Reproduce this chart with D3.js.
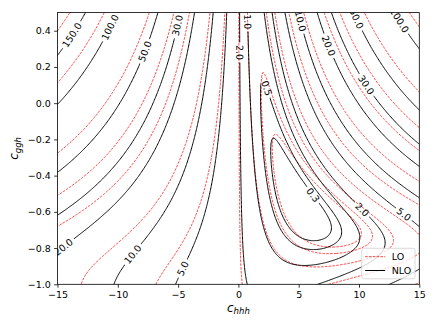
<!DOCTYPE html>
<meta charset="utf-8">
<script src="https://d3js.org/d3.v7.min.js"></script>
<style>
body { margin: 0; background: #fff; }
text { font-family: "DejaVu Sans", sans-serif; }
</style>
<div id="chart"></div>
<script>
// contour levels of R = sigma / sigma_SM
var levels = [0.3, 0.5, 1, 2, 5, 10, 20, 30, 50, 100, 150];

// R(chhh, cggh) = A1 + A2*c + A3*c^2 + A4*c*g + A5*c^2*g + A6*c^2*g^2
var nloCoef = [2.2073, -1.5471, 0.3363, -1.2339, 0.6472, 0.3537];
var loCoef = [2.0700, -1.3421, 0.2719, -1.1143, 0.5465, 0.3038];

// inline labels on the NLO contours: level, chhh, cggh
var nloLabels = [
  [150, -13.8, 0.376], [100, -10.65, 0.42], [50, -7.9, 0.29], [30, -5.1, 0.43],
  [20, -14.5, -0.795], [10, -8.85, -0.83], [5, -4.7, -0.91],
  [2, 0.07, 0.28], [1, 0.74, 0.45], [0.5, 2.35, 0.083], [0.3, 6.2, -0.507],
  [2, 10.22, -0.59], [5, 13.67, -0.618], [20, 7.32, 0.312], [30, 10.58, 0.10],
  [10, 4.94, 0.45], [50, 9.9, 0.47], [100, 13.4, 0.46]
];

var xTicks = [-15, -10, -5, 0, 5, 10, 15];
var yTicks = [-1.0, -0.8, -0.6, -0.4, -0.2, 0.0, 0.2, 0.4];

function R(c, a, g) {
  return c[0] + c[1]*a + c[2]*a*a + c[3]*a*g + c[4]*a*a*g + c[5]*a*a*g*g;
}

var W = 436, H = 327;
var margin = {top: 12.6, right: 16.7, bottom: 42.7, left: 57.5},
    width = W - margin.left - margin.right,
    height = H - margin.top - margin.bottom;

var svg = d3.select("#chart").append("svg").attr("width", W).attr("height", H);

var x = d3.scaleLinear().domain([-15, 15]).range([margin.left, margin.left + width]);
var y = d3.scaleLinear().domain([-1, 0.5]).range([margin.top + height, margin.top]);

var defs = svg.append("defs");
defs.append("clipPath").attr("id", "clip").append("rect")
  .attr("x", margin.left).attr("y", margin.top).attr("width", width).attr("height", height);
var mask = defs.append("mask").attr("id", "gaps").attr("maskUnits", "userSpaceOnUse")
  .attr("x", 0).attr("y", 0).attr("width", W).attr("height", H);
mask.append("rect").attr("width", W).attr("height", H).attr("fill", "#fff");

// sample the surface on a grid a bit larger than the axes, then clip
var nx = 420, ny = 240, X0 = -16, X1 = 16, Y0 = 0.6, Y1 = -1.1;
var dx = (X1 - X0) / (nx - 1), dy = (Y1 - Y0) / (ny - 1);
function grid(c) {
  var vals = new Array(nx * ny);
  for (var j = 0; j < ny; j++)
    for (var i = 0; i < nx; i++) vals[i + j * nx] = R(c, X0 + i * dx, Y0 + j * dy);
  return vals;
}
var proj = d3.geoTransform({ point: function(gx, gy) {
  this.stream.point(x(X0 + (gx - 0.5) * dx), y(Y0 + (gy - 0.5) * dy));
}});
var path = d3.geoPath(proj);
var gen = d3.contours().size([nx, ny]).thresholds(levels);

svg.append("g").attr("clip-path", "url(#clip)")
  .selectAll("path").data(gen(grid(loCoef))).enter().append("path")
  .attr("d", path).attr("fill", "none").attr("stroke", "#ff0000")
  .attr("stroke-width", 0.75).attr("stroke-dasharray", "2.6,1.2");

svg.append("g").attr("clip-path", "url(#clip)")
  .append("g").attr("mask", "url(#gaps)")
  .selectAll("path").data(gen(grid(nloCoef))).enter().append("path")
  .attr("d", path).attr("fill", "none").attr("stroke", "#000")
  .attr("stroke-width", 1);

// contour labels, snapped onto the NLO lines and turned along them
function Rpx(px, py) { return R(nloCoef, x.invert(px), y.invert(py)); }
var labelG = svg.append("g").attr("clip-path", "url(#clip)");
nloLabels.forEach(function(l) {
  var px = x(l[1]), py = y(l[2]), h = 0.5, gx, gy;
  for (var k = 0; k < 30; k++) {
    var v = Rpx(px, py);
    gx = (Rpx(px + h, py) - Rpx(px - h, py)) / (2 * h);
    gy = (Rpx(px, py + h) - Rpx(px, py - h)) / (2 * h);
    var g2 = gx * gx + gy * gy;
    if (!g2) break;
    var s = (l[0] - v) / g2;
    var step = Math.max(-3, Math.min(3, s * gx)), stepy = Math.max(-3, Math.min(3, s * gy));
    px += step; py += stepy;
  }
  var ang = Math.atan2(gx, -gy) * 180 / Math.PI;
  if (ang > 90) ang -= 180;
  if (ang <= -90) ang += 180;
  var t = labelG.append("text")
    .attr("transform", "translate(" + px + "," + py + ") rotate(" + ang + ")")
    .attr("text-anchor", "middle").attr("dy", "0.36em")
    .attr("font-size", 9.5).attr("fill", "#000")
    .text(l[0].toFixed(1));
  var len = t.node().getComputedTextLength();
  mask.append("rect")
    .attr("transform", "translate(" + px + "," + py + ") rotate(" + ang + ")")
    .attr("x", -len / 2 - 2.5).attr("y", -4.5).attr("width", len + 5).attr("height", 9)
    .attr("fill", "#000");
});

// axes
var xAxis = svg.append("g")
  .attr("transform", "translate(0," + (margin.top + height) + ")")
  .call(d3.axisBottom(x).tickValues(xTicks).tickSize(3.4).tickPadding(3.2).tickFormat(d3.format("d")));
var yAxis = svg.append("g")
  .attr("transform", "translate(" + margin.left + ",0)")
  .call(d3.axisLeft(y).tickValues(yTicks).tickSize(3.4).tickPadding(3.2).tickFormat(d3.format(".1f")));
[xAxis, yAxis].forEach(function(a) {
  a.select(".domain").remove();
  a.selectAll("line").attr("stroke", "#000").attr("stroke-width", 0.8);
  a.selectAll("text").attr("font-size", 9.5).attr("fill", "#000")
    .style("font-family", "'DejaVu Sans', sans-serif");
});

svg.append("rect")
  .attr("x", margin.left).attr("y", margin.top).attr("width", width).attr("height", height)
  .attr("fill", "none").attr("stroke", "#000").attr("stroke-width", 0.8);

// axis titles
var xl = svg.append("text").attr("x", x(0)).attr("y", 311.5)
  .attr("text-anchor", "middle").attr("font-style", "italic").attr("font-size", 12);
xl.append("tspan").text("c");
xl.append("tspan").attr("font-size", 8.5).attr("dy", 2.5).text("hhh");

var yl = svg.append("text")
  .attr("transform", "translate(18," + (margin.top + height / 2) + ") rotate(-90)")
  .attr("text-anchor", "middle").attr("font-style", "italic").attr("font-size", 12);
yl.append("tspan").text("c");
yl.append("tspan").attr("font-size", 8.5).attr("dy", 2.5).text("ggh");

// legend
var lg = svg.append("g").attr("transform", "translate(361.7,248.3)");
lg.append("rect").attr("width", 53.3).attr("height", 30.5).attr("rx", 2)
  .attr("fill", "#fff").attr("fill-opacity", 0.8).attr("stroke", "#ccc").attr("stroke-width", 0.7);
lg.append("line").attr("x1", 3.5).attr("x2", 23.5).attr("y1", 8.4).attr("y2", 8.4)
  .attr("stroke", "#ff0000").attr("stroke-width", 0.75).attr("stroke-dasharray", "2.6,1.2");
lg.append("line").attr("x1", 3.5).attr("x2", 23.5).attr("y1", 22.2).attr("y2", 22.2)
  .attr("stroke", "#000").attr("stroke-width", 1);
lg.append("text").attr("x", 30).attr("y", 8.4).attr("dy", "0.36em").attr("font-size", 9.5).text("LO");
lg.append("text").attr("x", 30).attr("y", 22.2).attr("dy", "0.36em").attr("font-size", 9.5).text("NLO");
</script>
